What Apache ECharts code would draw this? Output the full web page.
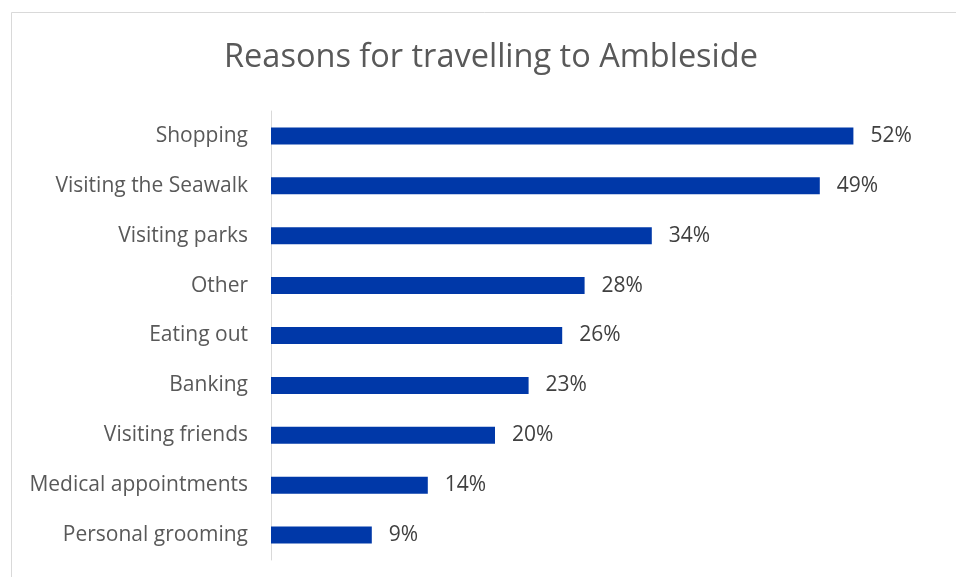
<!DOCTYPE html>
<html>
<head>
<meta charset="utf-8">
<title>Reasons for travelling to Ambleside</title>
<script src="https://cdn.jsdelivr.net/npm/echarts@6/dist/echarts.min.js"></script>
<style>
  html, body { margin: 0; padding: 0; background: #ffffff; }
  #chart { width: 956px; height: 577px; }
</style>
</head>
<body>
<div id="chart"></div>
<script>
// Survey responses: share of visitors giving each reason (percent)
const categories = [
  'Shopping',
  'Visiting the Seawalk',
  'Visiting parks',
  'Other',
  'Eating out',
  'Banking',
  'Visiting friends',
  'Medical appointments',
  'Personal grooming'
];
const shares = [52, 49, 34, 28, 26, 23, 20, 14, 9];
const chartTitle = 'Reasons for travelling to Ambleside';

const FONT = '"Open Sans", Lato, sans-serif';

const chart = echarts.init(document.getElementById('chart'), null, { renderer: 'canvas' });

chart.setOption({
  animation: false,
  backgroundColor: '#ffffff',
  graphic: [
    {
      type: 'rect',
      silent: true,
      shape: { x: 11.5, y: 12.5, width: 1000, height: 1000 },
      style: { fill: 'none', stroke: '#d9d9d9', lineWidth: 1 }
    },
    {
      type: 'text',
      x: 491,
      y: 58,
      style: {
        text: chartTitle,
        fill: '#595959',
        font: 'normal 32.5px ' + FONT,
        align: 'center',
        verticalAlign: 'middle'
      }
    }
  ],
  grid: { left: 271, top: 111, width: 672, height: 449, containLabel: false },
  xAxis: {
    type: 'value',
    min: 0,
    max: 60,
    show: false,
    splitLine: { show: false }
  },
  yAxis: {
    type: 'category',
    data: categories,
    inverse: true,
    axisLine: { show: true, lineStyle: { color: '#d9d9d9', width: 1 } },
    axisTick: { show: false },
    axisLabel: {
      margin: 23,
      padding: [3, 0, 0, 0],
      color: '#595959',
      fontSize: 21,
      fontFamily: FONT
    }
  },
  series: [
    {
      type: 'bar',
      data: shares,
      barWidth: 17,
      itemStyle: { color: '#0038a8' },
      label: {
        show: true,
        position: 'right',
        distance: 17,
        padding: [3, 0, 0, 0],
        formatter: '{c}%',
        color: '#404040',
        fontSize: 21,
        fontFamily: FONT
      }
    }
  ]
});
</script>
</body>
</html>
